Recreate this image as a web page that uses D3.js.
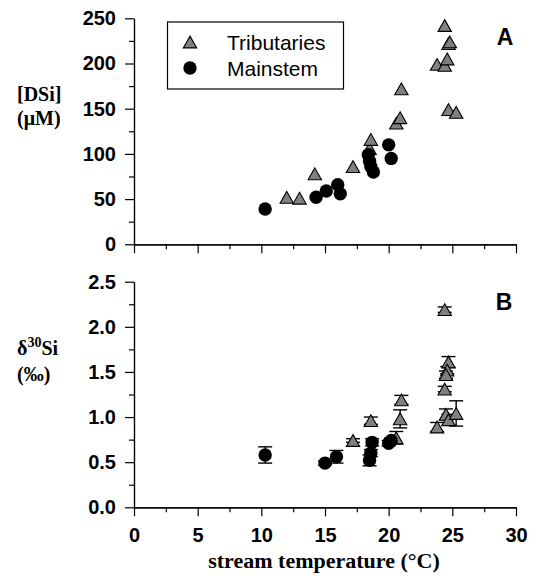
<!DOCTYPE html>
<html>
<head>
<meta charset="utf-8">
<script src="https://cdn.jsdelivr.net/npm/d3@7"></script>
<style>
  body { margin: 0; background: #fff; }
  .tick text { font-family: "Liberation Sans", Arial, sans-serif; font-weight: bold; font-size: 20px; fill: #000; }
  .axis path, .axis line { stroke: #000; stroke-width: 1.2px; }
  .title { font-family: "Liberation Serif", "Times New Roman", serif; font-weight: bold; fill: #000; }
</style>
</head>
<body>
<div id="chart"></div>
<script>
  // stream temperature (degC) vs [DSi] (uM), panel A
  var tribTempA = [12.0, 13.0, 14.2, 17.2, 18.5, 18.6, 20.6, 20.9, 21.0, 23.8, 24.4, 24.6, 24.4, 24.7, 24.8, 24.7, 25.3];
  var tribDsi   = [52, 51, 78, 86, 106, 116, 134, 140, 172, 199, 198, 205, 242, 222, 224, 149, 146];
  var mainTempA = [10.3, 14.3, 15.1, 16.0, 16.2, 18.4, 18.5, 18.6, 18.8, 20.0, 20.2];
  var mainDsi   = [39, 52, 59, 66, 56, 99, 92, 86, 80, 110, 95];

  // stream temperature vs delta30Si (permil) with error, panel B
  var tribTempB = [17.2, 18.6, 20.6, 20.9, 21.0, 23.8, 24.4, 24.7, 24.6, 24.5, 24.4, 24.5, 24.7, 25.3];
  var tribDelta = [0.74, 0.96, 0.77, 0.98, 1.19, 0.89, 2.19, 1.61, 1.52, 1.47, 1.31, 1.03, 0.97, 1.04];
  var tribErr   = [0.02, 0.04, 0.07, 0.10, 0.05, 0.05, 0.03, 0.06, 0.04, 0.04, 0.03, 0.06, 0.06, 0.14];
  var mainTempB = [10.3, 15.0, 15.9, 18.5, 18.6, 18.7, 20.0, 20.2];
  var mainDelta = [0.58, 0.49, 0.56, 0.52, 0.60, 0.72, 0.71, 0.74];
  var mainErr   = [0.09, 0.02, 0.07, 0.06, 0.04, 0.04, 0.03, 0.03];

  var xTicks = [0, 5, 10, 15, 20, 25, 30];
  var dsiTicks = [0, 50, 100, 150, 200, 250];
  var deltaTicks = [0, 0.5, 1.0, 1.5, 2.0, 2.5];
  var seriesNames = ['Tributaries', 'Mainstem'];

  var width = 536, height = 585;

  var svg = d3.select('#chart').append('svg')
    .attr('width', width)
    .attr('height', height);

  var x = d3.scaleLinear().domain([0, 30]).range([134, 516]);
  var yA = d3.scaleLinear().domain([0, 250]).range([244.3, 18.3]);
  var yB = d3.scaleLinear().domain([0, 2.5]).range([507.3, 281.7]);

  // triangle centred on its bounding box, like the original plot
  var triangle = {
    draw: function(context, size) {
      var w = Math.sqrt(size) * 0.8, h = w * 0.88;
      context.moveTo(0, -h / 2);
      context.lineTo(w / 2, h / 2);
      context.lineTo(-w / 2, h / 2);
      context.closePath();
    }
  };
  var triPath = d3.symbol().type(triangle).size(280)();

  function pts(xs, ys, es) {
    return xs.map(function(v, i) { return { t: v, v: ys[i], e: es ? es[i] : 0 }; });
  }

  /**
   * Draws one panel's axes.
   */
  function axes(y, ticks, fmt, minorStep, showXLabels) {
    var bottom = y.range()[0];

    svg.append('g').attr('class', 'axis')
      .attr('transform', 'translate(0,' + bottom + ')')
      .call(d3.axisBottom(x).tickValues(d3.range(2.5, 30, 5)).tickSize(5).tickSizeOuter(0).tickFormat(''));
    svg.append('g').attr('class', 'axis')
      .attr('transform', 'translate(0,' + bottom + ')')
      .call(d3.axisBottom(x).tickValues(xTicks).tickSize(9).tickSizeOuter(0).tickPadding(12)
        .tickFormat(showXLabels ? d3.format('d') : ''));

    svg.append('g').attr('class', 'axis')
      .attr('transform', 'translate(' + x(0) + ',0)')
      .call(d3.axisLeft(y).tickValues(d3.range(minorStep, y.domain()[1], minorStep * 2)).tickSize(5).tickSizeOuter(0).tickFormat(''));
    svg.append('g').attr('class', 'axis')
      .attr('transform', 'translate(' + x(0) + ',0)')
      .call(d3.axisLeft(y).tickValues(ticks).tickSize(9).tickSizeOuter(0).tickPadding(9).tickFormat(fmt));
  }

  function errorBars(g, y, data) {
    var bars = g.selectAll('g.err').data(data).enter().append('g')
      .attr('class', 'err')
      .attr('stroke', '#000')
      .attr('stroke-width', 1.4);
    bars.append('line')
      .attr('x1', function(d) { return x(d.t); })
      .attr('x2', function(d) { return x(d.t); })
      .attr('y1', function(d) { return y(d.v + d.e); })
      .attr('y2', function(d) { return y(d.v - d.e); });
    [1, -1].forEach(function(s) {
      bars.append('line')
        .attr('x1', function(d) { return x(d.t) - 7; })
        .attr('x2', function(d) { return x(d.t) + 7; })
        .attr('y1', function(d) { return y(d.v + s * d.e); })
        .attr('y2', function(d) { return y(d.v + s * d.e); });
    });
  }

  function markers(g, y, trib, main) {
    g.selectAll('path.trib').data(trib).enter().append('path')
      .attr('class', 'trib')
      .attr('d', triPath)
      .attr('transform', function(d) { return 'translate(' + x(d.t) + ',' + y(d.v) + ')'; })
      .attr('fill', '#808080')
      .attr('stroke', '#000')
      .attr('stroke-width', 1.1);
    g.selectAll('circle.main').data(main).enter().append('circle')
      .attr('class', 'main')
      .attr('cx', function(d) { return x(d.t); })
      .attr('cy', function(d) { return y(d.v); })
      .attr('r', 6.7)
      .attr('fill', '#000');
  }

  // panel A
  axes(yA, dsiTicks, d3.format('d'), 25, false);
  var gA = svg.append('g');
  markers(gA, yA, pts(tribTempA, tribDsi), pts(mainTempA, mainDsi));

  // panel B
  axes(yB, deltaTicks, d3.format('.1f'), 0.25, true);
  var gB = svg.append('g');
  var tribB = pts(tribTempB, tribDelta, tribErr);
  var mainB = pts(mainTempB, mainDelta, mainErr);
  errorBars(gB, yB, tribB.concat(mainB));
  markers(gB, yB, tribB, mainB);

  // legend
  var legend = svg.append('g');
  legend.append('rect')
    .attr('x', 167.5).attr('y', 22)
    .attr('width', 176).attr('height', 67)
    .attr('fill', '#fff')
    .attr('stroke', '#000')
    .attr('stroke-width', 1.2);
  legend.append('path')
    .attr('d', triPath)
    .attr('transform', 'translate(190,42)')
    .attr('fill', '#808080').attr('stroke', '#000').attr('stroke-width', 1.1);
  legend.append('circle')
    .attr('cx', 190).attr('cy', 68).attr('r', 6.7).attr('fill', '#000');
  legend.selectAll('text').data(seriesNames).enter().append('text')
    .attr('x', 227)
    .attr('y', function(d, i) { return 50 + i * 26; })
    .style('font-family', '"Liberation Sans", Arial, sans-serif')
    .style('font-size', '21px')
    .text(function(d) { return d; });

  // panel letters
  svg.append('text').attr('x', 505).attr('y', 45)
    .attr('text-anchor', 'middle')
    .style('font-family', '"Liberation Sans", Arial, sans-serif')
    .style('font-weight', 'bold').style('font-size', '23px')
    .text('A');
  svg.append('text').attr('x', 504).attr('y', 310)
    .attr('text-anchor', 'middle')
    .style('font-family', '"Liberation Sans", Arial, sans-serif')
    .style('font-weight', 'bold').style('font-size', '23px')
    .text('B');

  // axis titles
  svg.append('text').attr('class', 'title').attr('x', 17).attr('y', 101).style('font-size', '20px').text('[DSi]');
  svg.append('text').attr('class', 'title').attr('x', 17).attr('y', 125).style('font-size', '20px').text('(\u03bcM)');

  var delta = svg.append('text').attr('class', 'title').attr('x', 17).attr('y', 355).style('font-size', '20px');
  delta.append('tspan').text('\u03b4');
  delta.append('tspan').attr('dy', -8).style('font-size', '14px').text('30');
  delta.append('tspan').attr('dy', 8).text('Si');
  svg.append('text').attr('class', 'title').attr('x', 17).attr('y', 381).style('font-size', '20px').text('(\u2030)');

  svg.append('text').attr('class', 'title')
    .attr('x', 324).attr('y', 568)
    .attr('text-anchor', 'middle')
    .style('font-size', '22px')
    .text('stream temperature (\u00b0C)');
</script>
</body>
</html>
